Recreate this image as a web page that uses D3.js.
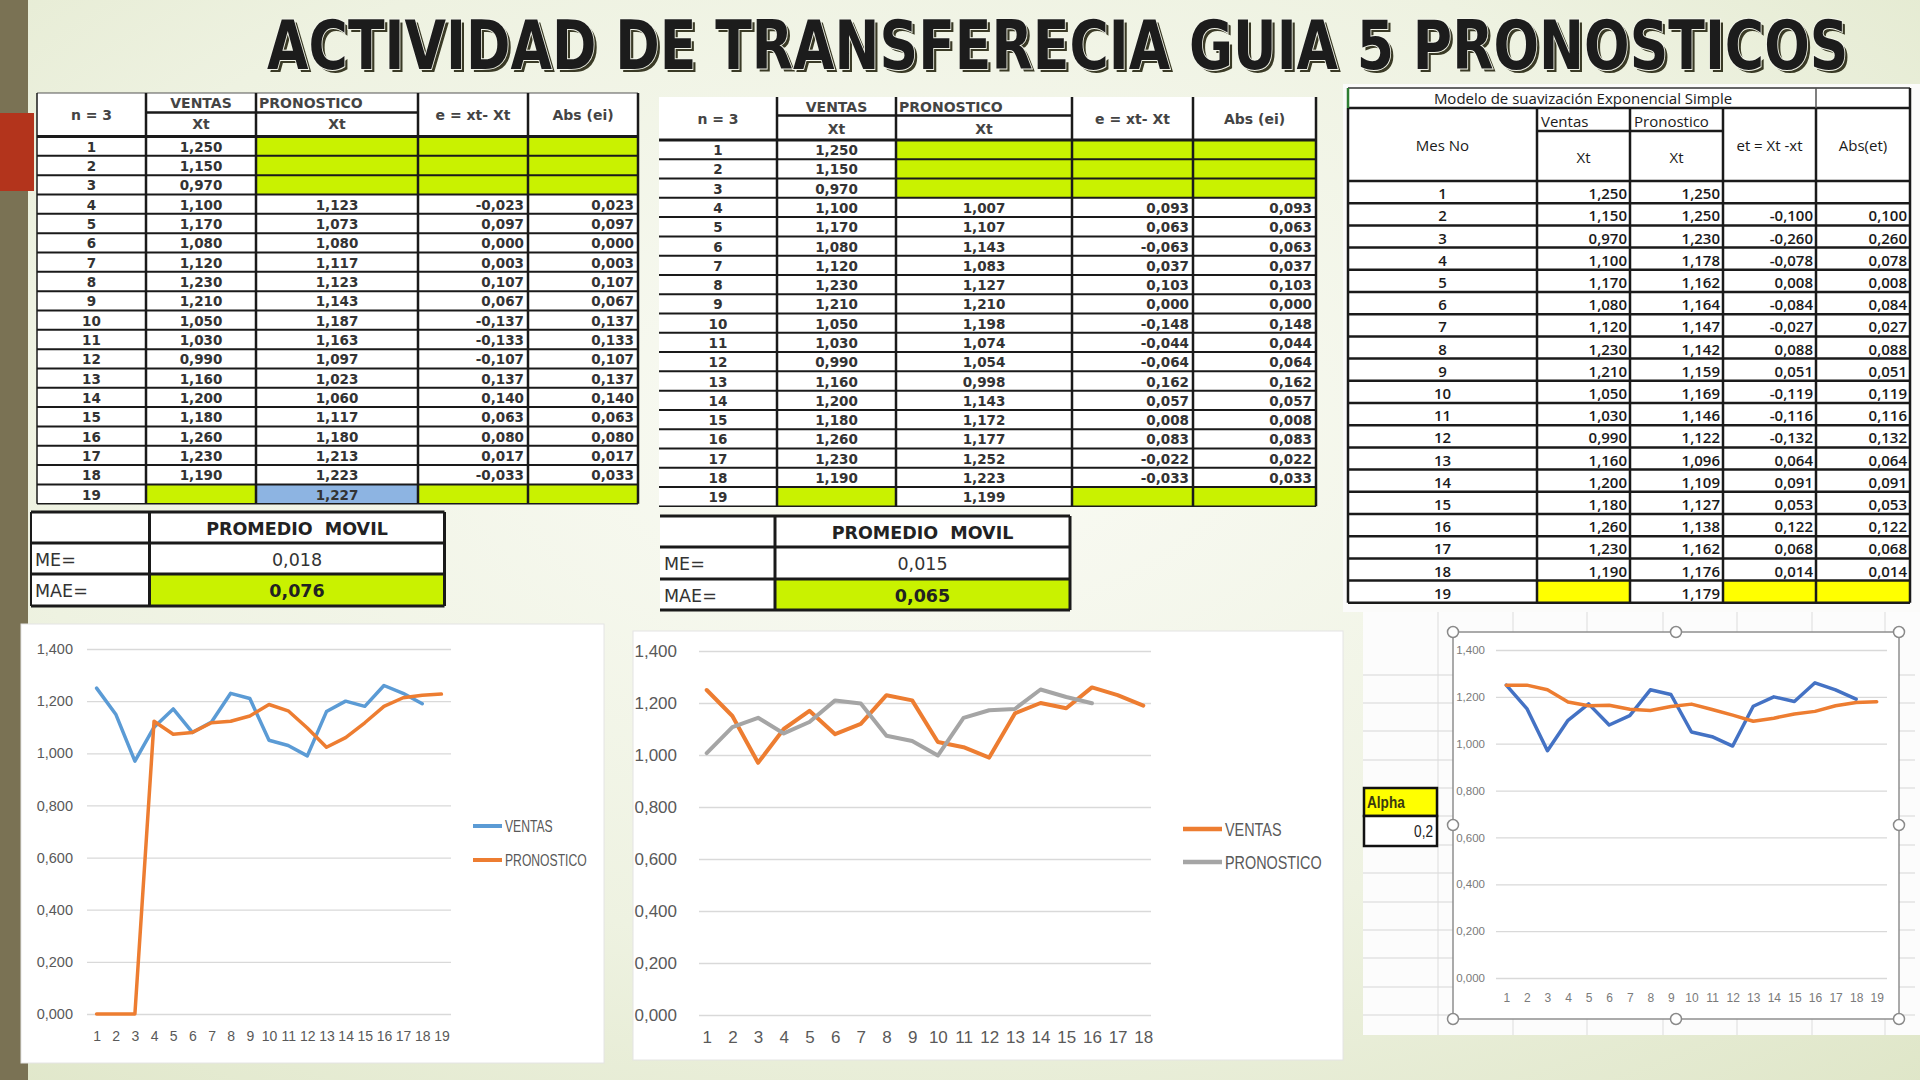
<!DOCTYPE html>
<html><head><meta charset="utf-8">
<script src="https://cdn.jsdelivr.net/npm/d3@7"></script>
<style>body{margin:0;overflow:hidden;background:#fff} text{white-space:pre}</style>
</head><body>
<svg id="c" width="1920" height="1080"></svg>
<script>
// ---------------- DATA ----------------
const months = [1,2,3,4,5,6,7,8,9,10,11,12,13,14,15,16,17,18,19];
const ventas = [1.250,1.150,0.970,1.100,1.170,1.080,1.120,1.230,1.210,1.050,1.030,0.990,1.160,1.200,1.180,1.260,1.230,1.190,null];
// Promedio movil n=3 (tabla 1)
const pm1Forecast = [null,null,null,1.123,1.073,1.080,1.117,1.123,1.143,1.187,1.163,1.097,1.023,1.060,1.117,1.180,1.213,1.223,1.227];
const pm1Error = [null,null,null,-0.023,0.097,0.000,0.003,0.107,0.067,-0.137,-0.133,-0.107,0.137,0.140,0.063,0.080,0.017,-0.033,null];
const pm1Abs = [null,null,null,0.023,0.097,0.000,0.003,0.107,0.067,0.137,0.133,0.107,0.137,0.140,0.063,0.080,0.017,0.033,null];
const pm1Summary = [0.018,0.076];
// Promedio movil n=3 (tabla 2)
const pm2Forecast = [null,null,null,1.007,1.107,1.143,1.083,1.127,1.210,1.198,1.074,1.054,0.998,1.143,1.172,1.177,1.252,1.223,1.199];
const pm2Error = [null,null,null,0.093,0.063,-0.063,0.037,0.103,0.000,-0.148,-0.044,-0.064,0.162,0.057,0.008,0.083,-0.022,-0.033,null];
const pm2Abs = [null,null,null,0.093,0.063,0.063,0.037,0.103,0.000,0.148,0.044,0.064,0.162,0.057,0.008,0.083,0.022,0.033,null];
const pm2Summary = [0.015,0.065];
// Suavizacion exponencial simple
const sesForecast = [1.250,1.250,1.230,1.178,1.162,1.164,1.147,1.142,1.159,1.169,1.146,1.122,1.096,1.109,1.127,1.138,1.162,1.176,1.179];
const sesError = [null,-0.100,-0.260,-0.078,0.008,-0.084,-0.027,0.088,0.051,-0.119,-0.116,-0.132,0.064,0.091,0.053,0.122,0.068,0.014,null];
const sesAbs = [null,0.100,0.260,0.078,0.008,0.084,0.027,0.088,0.051,0.119,0.116,0.132,0.064,0.091,0.053,0.122,0.068,0.014,null];
const alpha = 0.2;
const yTicks = [0,0.2,0.4,0.6,0.8,1.0,1.2,1.4];
const seriesNames = ["VENTAS","PRONOSTICO"];
const titleText = "ACTIVIDAD DE TRANSFERECIA GUIA 5 PRONOSTICOS";

// ---------------- SETUP ----------------
const svg = d3.select("#c");
const loc = d3.formatLocale({decimal:",",thousands:".",grouping:[3],currency:["",""],minus:"-"});
const f3 = loc.format(".3f");
const f1 = loc.format(".1f");
const GREEN = "#c9f200", BLUE = "#8db4e2", YELLOW = "#ffff00";
const TF = "DejaVu Sans", SANS = "'Liberation Sans',Arial,sans-serif";

const defs = svg.append("defs");
const bg = defs.append("radialGradient").attr("id","bg").attr("cx","48%").attr("cy","40%").attr("r","80%");
bg.append("stop").attr("offset","0%").attr("stop-color","#fafbf5");
bg.append("stop").attr("offset","60%").attr("stop-color","#eef2e1");
bg.append("stop").attr("offset","100%").attr("stop-color","#dfe6c8");
svg.append("rect").attr("width",1920).attr("height",1080).attr("fill","url(#bg)");
svg.append("rect").attr("x",0).attr("y",0).attr("width",28).attr("height",1080).attr("fill","#7a7254");
svg.append("rect").attr("x",0).attr("y",113).attr("width",34).attr("height",78).attr("fill","#b3341c");

// text squeezed horizontally to a given width (keeps real text)
function fitText(g, x, y, s, width, attrs) {
  const t = g.append("text").attr("x",0).attr("y",0).text(s);
  Object.entries(attrs).forEach(([k,v])=>t.attr(k,v));
  const w = t.node().getComputedTextLength();
  const sx = width ? width / w : 1;
  t.attr("transform",`translate(${x},${y}) scale(${sx},1)`);
  return t;
}
function squeeze(g, x, y, s, sx, attrs) {
  const t = g.append("text").attr("x",0).attr("y",0).text(s);
  Object.entries(attrs).forEach(([k,v])=>t.attr(k,v));
  t.attr("transform",`translate(${x},${y}) scale(${sx},1)`);
  return t;
}

// Title
const tg = svg.append("g");
fitText(tg,270,72,titleText,1582,{"font-family":TF,"font-weight":"bold","font-size":67,fill:"#3a3a26"});
fitText(tg,267,69,titleText,1582,{"font-family":TF,"font-weight":"bold","font-size":67,fill:"#1c1c1c",
  stroke:"#f3f5ea","stroke-width":2,"paint-order":"stroke"});

// ---------------- helper ----------------
function txt(g, x, y, s, o={}) {
  return g.append("text").attr("x",x).attr("y",y).text(s)
    .attr("font-family",o.ff||TF).attr("font-size",o.fs||13.5)
    .attr("font-weight",o.fw||"bold").attr("fill",o.fill||"#333")
    .attr("text-anchor",o.anchor||"middle").attr("dominant-baseline","central");
}
function hline(g,x1,x2,y,w,c){g.append("line").attr("x1",x1).attr("x2",x2).attr("y1",y).attr("y2",y).attr("stroke",c||"#1a1a1a").attr("stroke-width",w);}
function vline(g,x,y1,y2,w,c){g.append("line").attr("x1",x).attr("x2",x).attr("y1",y1).attr("y2",y2).attr("stroke",c||"#1a1a1a").attr("stroke-width",w);}

// ---------------- moving average tables ----------------
function movTable(c, fc, er, ab, lastFill) {
  const g = svg.append("g");
  const xs = c.xs, ry = i => c.hb + i*c.rh, yEnd = ry(months.length);
  g.append("rect").attr("x",xs[0]).attr("y",c.ht).attr("width",xs[5]-xs[0]).attr("height",yEnd-c.ht).attr("fill","#fff");
  months.forEach((m,i)=>{
    const fills=[];
    if (fc[i]===null) fills.push([2,GREEN]);
    if (er[i]===null) fills.push([3,GREEN],[4,GREEN]);
    if (ventas[i]===null) { fills.push([1,GREEN]); if (lastFill) fills.push([2,lastFill]); }
    fills.forEach(([k,col])=>g.append("rect").attr("x",xs[k]).attr("y",ry(i)).attr("width",xs[k+1]-xs[k]).attr("height",c.rh).attr("fill",col));
  });
  const hs = {fs:14, fill:"#444"};
  txt(g,(xs[0]+xs[1])/2,(c.ht+c.hb)/2,"n = 3",hs);
  txt(g,(xs[1]+xs[2])/2,c.hv,"VENTAS",hs);
  txt(g,xs[2]+3,c.hv,"PRONOSTICO",Object.assign({anchor:"start"},hs));
  txt(g,(xs[1]+xs[2])/2,c.hx,"Xt",hs);
  txt(g,(xs[2]+xs[3])/2,c.hx,"Xt",hs);
  txt(g,(xs[3]+xs[4])/2,(c.ht+c.hb)/2,"e = xt- Xt",hs);
  txt(g,(xs[4]+xs[5])/2,(c.ht+c.hb)/2,"Abs (ei)",hs);
  months.forEach((m,i)=>{
    const cy = ry(i)+c.rh/2+0.5;
    txt(g,(xs[0]+xs[1])/2,cy,String(m));
    if (ventas[i]!==null) txt(g,(xs[1]+xs[2])/2,cy,f3(ventas[i]));
    if (fc[i]!==null) txt(g,(xs[2]+xs[3])/2,cy,f3(fc[i]));
    if (er[i]!==null) txt(g,xs[4]-4,cy,f3(er[i]),{anchor:"end"});
    if (ab[i]!==null) txt(g,xs[5]-4,cy,f3(ab[i]),{anchor:"end"});
  });
  if (c.topBorder) hline(g,xs[0],xs[5],c.ht,1.2,"#555");
  hline(g,xs[1],xs[3],c.hm,2.5);
  hline(g,xs[0],xs[5],c.hb,3);
  for (let i=1;i<=months.length;i++) hline(g,xs[0],xs[5],ry(i),i===months.length?1.5:2);
  xs.forEach((x,k)=>{ if (k>0 || c.leftBorder) vline(g,x,c.ht,yEnd,k===0?1.5:2.5); });
}
movTable({xs:[37,146,256,418,528,638],ht:93,hv:103,hm:112.5,hx:124,hb:136.5,rh:19.33,topBorder:true,leftBorder:true},
  pm1Forecast,pm1Error,pm1Abs,BLUE);
movTable({xs:[659,777,896,1072,1193,1316],ht:97,hv:107,hm:115.5,hx:129,hb:140,rh:19.28,topBorder:false,leftBorder:false},
  pm2Forecast,pm2Error,pm2Abs,null);

// summary tables
function summary(c, vals) {
  const g = svg.append("g");
  g.append("rect").attr("x",c.x0).attr("y",c.ys[0]).attr("width",c.x1-c.x0).attr("height",c.ys[3]-c.ys[0]).attr("fill","#fff");
  g.append("rect").attr("x",c.xd).attr("y",c.ys[2]).attr("width",c.x1-c.xd).attr("height",c.ys[3]-c.ys[2]).attr("fill",GREEN);
  const cx=(c.xd+c.x1)/2;
  txt(g,cx,(c.ys[0]+c.ys[1])/2+1,"PROMEDIO  MOVIL",{fs:17.5,fill:"#222"});
  txt(g,c.x0+4,(c.ys[1]+c.ys[2])/2+1,"ME=",{fs:17.5,fw:"normal",anchor:"start",fill:"#333"});
  txt(g,c.x0+4,(c.ys[2]+c.ys[3])/2+1,"MAE=",{fs:17.5,fw:"normal",anchor:"start",fill:"#333"});
  txt(g,cx,(c.ys[1]+c.ys[2])/2+1,f3(vals[0]),{fs:17.5,fw:"normal",fill:"#333"});
  txt(g,cx,(c.ys[2]+c.ys[3])/2+1,f3(vals[1]),{fs:17.5,fill:"#222"});
  c.ys.forEach(y=>hline(g,c.x0,c.x1,y,3));
  if (c.left) vline(g,c.x0,c.ys[0],c.ys[3],2);
  vline(g,c.xd,c.ys[0],c.ys[3],3); vline(g,c.x1,c.ys[0],c.ys[3],3);
}
summary({x0:31,xd:149.5,x1:444.5,ys:[512,543,574,606],left:true},pm1Summary);
summary({x0:660,xd:775,x1:1070,ys:[516,547,579,610],left:false},pm2Summary);

// ---------------- Excel area (table 3 + chart 3) ----------------
const ex = svg.append("g");
ex.append("rect").attr("x",1343).attr("y",84).attr("width",577).attr("height",528).attr("fill","#fbfbfa");
ex.append("rect").attr("x",1363).attr("y",612).attr("width",557).attr("height",423).attr("fill","#fcfcfc");
[675,703,731,760,788,816,845,873,902,930,958,987,1015].forEach(y=>hline(ex,1363,1915,y,1,"#d6d6d6"));
[1438,1513,1587,1663,1737,1812,1885].forEach(x=>vline(ex,x,612,1035,1,"#dcdcdc"));

// Table 3
(function(){
  const g = svg.append("g");
  const xs=[1348,1537,1630,1723,1816,1910], tt=88, ht=108, hm=131, hb=181, rh=22.2;
  const ry=i=>hb+i*rh, yEnd=ry(months.length);
  g.append("rect").attr("x",xs[0]).attr("y",tt).attr("width",xs[5]-xs[0]).attr("height",yEnd-tt).attr("fill","#fff");
  months.forEach((m,i)=>{
    if (ventas[i]===null) [1,3,4].forEach(k=>g.append("rect").attr("x",xs[k]).attr("y",ry(i)).attr("width",xs[k+1]-xs[k]).attr("height",rh).attr("fill",YELLOW));
  });
  const o={ff:"'Open Sans',sans-serif",fs:15,fw:"600",fill:"#1a1a1a"};
  const oh=Object.assign({},o,{fw:"normal",fs:15});
  txt(g,1583,(tt+ht)/2,"Modelo de suavización Exponencial Simple",oh);
  txt(g,(xs[0]+xs[1])/2,145,"Mes No",oh);
  txt(g,xs[1]+4,121,"Ventas",Object.assign({},oh,{anchor:"start"}));
  txt(g,xs[2]+4,121,"Pronostico",Object.assign({},oh,{anchor:"start"}));
  txt(g,(xs[1]+xs[2])/2,157,"Xt",oh);
  txt(g,(xs[2]+xs[3])/2,157,"Xt",oh);
  txt(g,(xs[3]+xs[4])/2,145,"et = Xt -xt",oh);
  txt(g,(xs[4]+xs[5])/2,145,"Abs(et)",oh);
  months.forEach((m,i)=>{
    const cy=ry(i)+rh/2+1;
    txt(g,(xs[0]+xs[1])/2,cy,String(m),o);
    const ra=Object.assign({},o,{anchor:"end"});
    if (ventas[i]!==null) txt(g,xs[2]-3,cy,f3(ventas[i]),ra);
    if (sesForecast[i]!==null) txt(g,xs[3]-3,cy,f3(sesForecast[i]),ra);
    if (sesError[i]!==null) txt(g,xs[4]-3,cy,f3(sesError[i]),ra);
    if (sesAbs[i]!==null) txt(g,xs[5]-3,cy,f3(sesAbs[i]),ra);
  });
  hline(g,xs[0],xs[5],tt,1.5,"#333");
  hline(g,xs[0],xs[5],ht,2.5);
  hline(g,xs[1],xs[3],hm,2.5);
  for (let i=0;i<=months.length;i++) hline(g,xs[0],xs[5],ry(i),2.5);
  vline(g,xs[0],tt,ht,2.5,"#2e7d32");
  vline(g,xs[4],tt,ht,1.5,"#555"); vline(g,xs[5],tt,ht,2.5);
  xs.forEach(x=>vline(g,x,ht,yEnd,2.5));
})();

// Alpha cells
(function(){
  const g=svg.append("g");
  g.append("rect").attr("x",1364).attr("y",788).attr("width",73).attr("height",28).attr("fill",YELLOW).attr("stroke","#111").attr("stroke-width",2.5);
  g.append("rect").attr("x",1364).attr("y",816).attr("width",73).attr("height",30).attr("fill","#fff").attr("stroke","#111").attr("stroke-width",2.5);
  squeeze(g,1367,803,"Alpha",0.85,{"font-family":SANS,"font-size":16,"font-weight":"bold",fill:"#3a3a10","dominant-baseline":"central"});
  squeeze(g,1433,832,f1(alpha),0.85,{"font-family":SANS,"font-size":16,fill:"#222","text-anchor":"end","dominant-baseline":"central"});
})();

// ---------------- charts ----------------
function lineChart(o) {
  const g = svg.append("g");
  const x = d3.scalePoint().domain(o.cats).range([o.x0,o.x1]).padding(o.pad);
  const y = d3.scaleLinear().domain([0,1.4]).range([o.yb,o.yt]);
  const ya = g.append("g").attr("transform",`translate(${o.x0},0)`)
    .call(d3.axisLeft(y).tickValues(yTicks).tickFormat(f3).tickSize(-(o.x1-o.x0)).tickPadding(o.x0-o.lab));
  ya.select(".domain").remove();
  ya.selectAll("line").attr("stroke","#d9d9d9").attr("stroke-width",1.3);
  ya.selectAll("text").attr("font-family",SANS).attr("font-size",o.fs).attr("fill",o.tc);
  const xa = g.append("g").attr("transform",`translate(0,${o.yb})`).call(d3.axisBottom(x).tickSize(0));
  xa.select(".domain").remove();
  xa.selectAll("text").attr("y",o.xlab-o.yb).attr("dy","0.35em").attr("font-family",SANS).attr("font-size",o.xfs||o.fs).attr("fill",o.tc);
  o.series.forEach(s=>{
    const pts = s.vals.map((v,i)=>({m:o.cats[i],v}));
    g.append("path").datum(pts)
      .attr("d",d3.line().defined(d=>d.v!==null).x(d=>x(d.m)).y(d=>y(d.v)))
      .attr("fill","none").attr("stroke",s.color).attr("stroke-width",o.lw)
      .attr("stroke-linejoin","round").attr("stroke-linecap","round");
  });
  if (o.legend) {
    o.series.forEach((s,i)=>{
      const ly = o.legend.y + i*o.legend.dy;
      g.append("line").attr("x1",o.legend.x).attr("x2",o.legend.x+o.legend.w).attr("y1",ly).attr("y2",ly)
        .attr("stroke",s.color).attr("stroke-width",o.lw+0.5);
      squeeze(g,o.legend.x+o.legend.w+3,ly,s.name,o.legend.sx,
        {"font-family":SANS,"font-size":o.legend.fs,fill:"#595959","dominant-baseline":"central"});
    });
  }
}

// Chart 1 panel
svg.append("rect").attr("x",21).attr("y",624).attr("width",583).attr("height",439).attr("fill","#fff").attr("stroke","#e4e4e4");
lineChart({cats:months,x0:87,x1:451,pad:0.5,yb:1014,yt:649,lab:73,xlab:1036,fs:14.5,xfs:14,tc:"#595959",lw:3.5,
  series:[{name:seriesNames[0],vals:ventas,color:"#5b9bd5"},
          {name:seriesNames[1],vals:pm1Forecast.map(v=>v===null?0:v),color:"#ed7d31"}],
  legend:{x:473,w:29,y:826,dy:34,fs:16,sx:0.76}});

// Chart 2 panel
svg.append("rect").attr("x",633).attr("y",631).attr("width",710).attr("height",429).attr("fill","#fff").attr("stroke","#e4e4e4");
const cats2 = months.slice(0,18);
lineChart({cats:cats2,x0:699,x1:1151,pad:0.3,yb:1015,yt:651,lab:677,xlab:1037,fs:17,xfs:17,tc:"#595959",lw:4,
  series:[{name:seriesNames[0],vals:ventas.slice(0,18),color:"#ed7d31"},
          {name:seriesNames[1],vals:pm2Forecast.slice(3).concat([null,null]),color:"#a5a5a5"}],
  legend:{x:1183,w:39,y:829,dy:33,fs:18,sx:0.8}});

// Chart 3 frame
svg.append("rect").attr("x",1453).attr("y",632).attr("width",446).attr("height",387).attr("fill","#fff").attr("stroke","#8f8f8f").attr("stroke-width",1.5);
lineChart({cats:months,x0:1496,x1:1887,pad:0.5,yb:978,yt:650,lab:1485,xlab:998,fs:11.5,xfs:12,tc:"#7a7a7a",lw:3.5,
  series:[{name:seriesNames[0],vals:ventas,color:"#4472c4"},
          {name:seriesNames[1],vals:sesForecast,color:"#ed7d31"}]});
[[1453,632],[1676,632],[1899,632],[1453,825],[1899,825],[1453,1019],[1676,1019],[1899,1019]].forEach(([hx,hy])=>
  svg.append("circle").attr("cx",hx).attr("cy",hy).attr("r",5.5).attr("fill","#fff").attr("stroke","#8a8a8a").attr("stroke-width",1.5));
</script>
</body></html>
